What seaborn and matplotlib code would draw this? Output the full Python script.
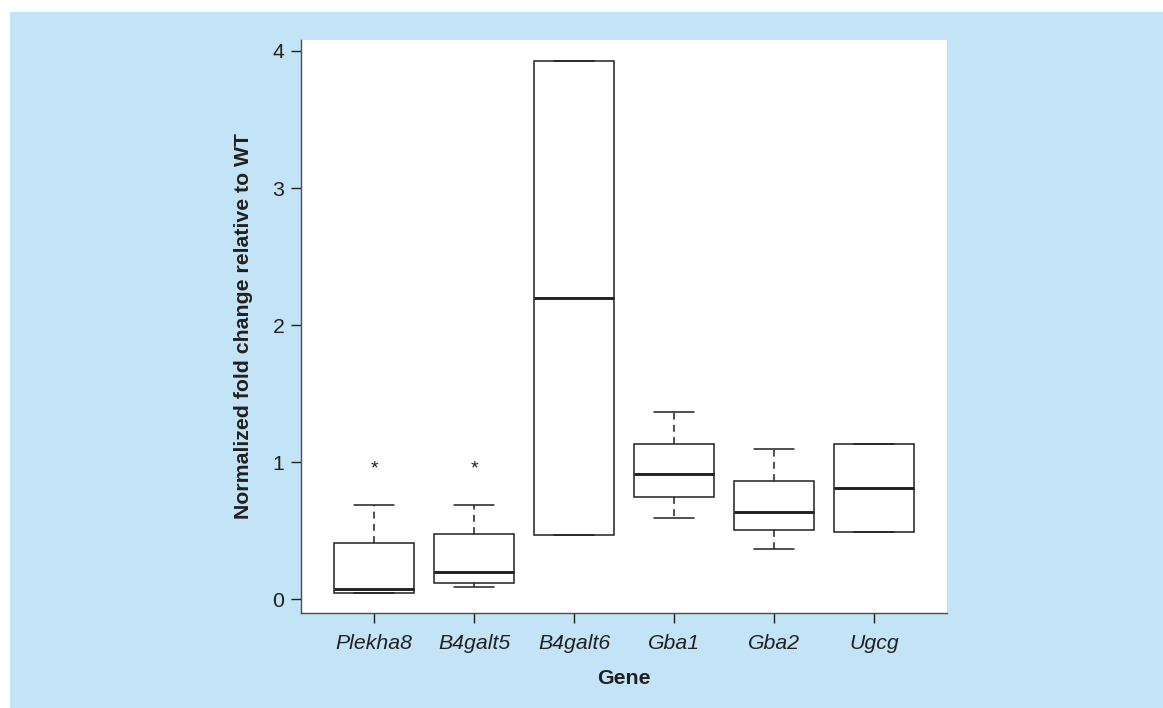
import numpy as np
import pandas as pd
import matplotlib.pyplot as plt
from matplotlib.patches import Rectangle
import seaborn as sns

# five-number summaries (min, q1, median, q3, max)
genes = ['Plekha8', 'B4galt5', 'B4galt6', 'Gba1', 'Gba2', 'Ugcg']
plekha8 = [0.046, 0.046, 0.078, 0.41, 0.69]
b4galt5 = [0.093, 0.122, 0.20, 0.474, 0.69]
b4galt6 = [0.467, 0.467, 2.20, 3.93, 3.93]
gba1 = [0.593, 0.745, 0.917, 1.134, 1.365]
gba2 = [0.37, 0.506, 0.635, 0.864, 1.097]
ugcg = [0.494, 0.494, 0.812, 1.134, 1.134]

# significance stars
star_genes = ['Plekha8', 'B4galt5']
star_y = [0.95, 0.95]

values = [plekha8, b4galt5, b4galt6, gba1, gba2, ugcg]
df = pd.DataFrame({
    'Gene': np.repeat(genes, [len(v) for v in values]),
    'value': np.concatenate(values),
})

sns.set_style("ticks")
plt.rcParams['font.family'] = ['Liberation Sans', 'DejaVu Sans']

ink = '#231f20'
blue = '#c2e4f6'
fs = 15.3

fig = plt.figure(figsize=(11.63, 7.08), dpi=100, facecolor='white')
fig.patches.append(Rectangle((10 / 1163, 0), 1, 1 - 12 / 708,
                             transform=fig.transFigure, facecolor=blue,
                             edgecolor='none', zorder=-1))
ax = fig.add_axes([0.2588, 0.1342, 0.5555, 0.8093])
ax.set_facecolor('white')

sns.boxplot(data=df, x='Gene', y='value', order=genes, width=0.8,
            color='white', linecolor=ink, linewidth=1.1, ax=ax,
            medianprops={'linewidth': 2.1, 'color': ink},
            whiskerprops={'linestyle': (0, (4.5, 3.5)), 'color': ink},
            capprops={'color': ink})

for g, y in zip(star_genes, star_y):
    ax.text(genes.index(g), y, '*', ha='center', va='center',
            fontsize=14, color=ink)

ax.set_xlim(-0.73, 5.73)
ax.set_ylim(-0.10, 4.08)
ax.set_yticks([0, 1, 2, 3, 4])

sns.despine(ax=ax)
for s in ['left', 'bottom']:
    ax.spines[s].set_color('#4d4d4d')
    ax.spines[s].set_linewidth(1.0)

ax.tick_params(axis='both', length=7, width=1, color=ink,
               labelsize=fs, labelcolor=ink, pad=5)
ax.tick_params(axis='x', pad=8)
for lab in ax.get_xticklabels():
    lab.set_fontstyle('italic')

ax.set_xlabel('Gene', fontsize=fs, fontweight='bold', color=ink, labelpad=12)
ax.set_ylabel('Normalized fold change relative to WT', fontsize=fs,
              fontweight='bold', color=ink, labelpad=14)

fig.savefig('out.png', dpi=100, facecolor=fig.get_facecolor())
